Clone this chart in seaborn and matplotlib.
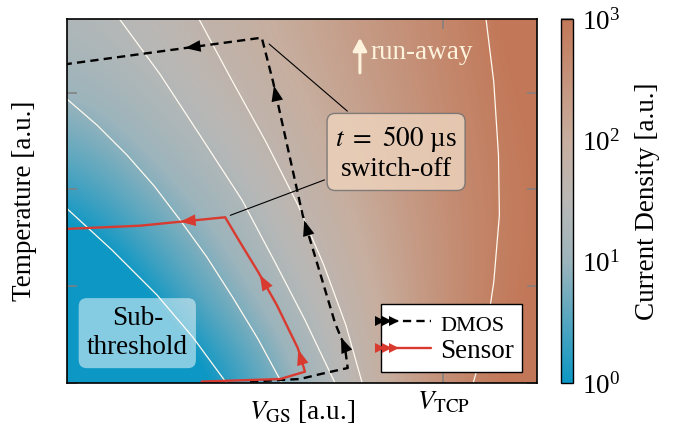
import numpy as np
import matplotlib
matplotlib.use('Agg')
import matplotlib.pyplot as plt
import seaborn as sns
from matplotlib.colors import LinearSegmentedColormap, LogNorm
from matplotlib.cm import ScalarMappable
from matplotlib.lines import Line2D
from matplotlib.legend_handler import HandlerLine2D
from matplotlib.ticker import NullLocator

# --- values (V_GS and temperature in a.u.) ---
v_grid = [0.0, 1/6, 2/6, 3/6, 4/6, 5/6, 1.0]
t_grid = [0.0, 0.752, 1.504, 2.256, 3.008, 3.76]
# log10 of the current density, one row per temperature (bottom -> top)
log_j = [
    [-1.5, -0.8, 0.05, 1.00, 1.90, 2.75, 3.2],
    [-1.2, -0.1, 0.69, 1.32, 2.03, 2.65, 3.1],
    [-0.2, 0.48, 1.04, 1.61, 2.13, 2.64, 3.05],
    [0.45, 0.95, 1.36, 1.83, 2.25, 2.68, 3.05],
    [1.00, 1.30, 1.66, 2.00, 2.37, 2.74, 3.1],
    [1.35, 1.55, 1.85, 2.13, 2.46, 2.78, 3.2],
]

# iso current density lines
iso_u = [
    [-0.005, 0.095, 0.191, 0.267, 0.342],
    [-0.005, 0.063, 0.127, 0.185, 0.240, 0.297, 0.353, 0.406, 0.459],
    [0.108, 0.197, 0.282, 0.372, 0.442, 0.506, 0.572],
    [0.278, 0.350, 0.423, 0.491, 0.546, 0.593, 0.629],
    [0.891, 0.908, 0.918, 0.920, 0.908, 0.889, 0.863],
]
iso_v = [
    [1.82, 1.374, 0.909, 0.475, -0.02],
    [2.95, 2.665, 2.355, 2.035, 1.684, 1.302, 0.878, 0.455, -0.02],
    [3.78, 3.192, 2.562, 1.890, 1.250, 0.651, -0.02],
    [3.78, 3.130, 2.490, 1.839, 1.219, 0.599, -0.02],
    [3.78, 3.110, 2.355, 1.736, 1.043, 0.424, -0.02],
]

# operating point trajectories
dmos_u = [0.389, 0.495, 0.544, 0.597, 0.591, 0.570, 0.501, 0.438, 0.414, -0.005]
dmos_v = [0.015, 0.041, 0.098, 0.155, 0.372, 0.620, 1.736, 3.113, 3.567, 3.292]
sensor_u = [0.286, 0.453, 0.506, 0.491, 0.446, 0.406, 0.367, 0.336, 0.155, -0.005]
sensor_v = [0.015, 0.041, 0.117, 0.358, 0.806, 1.150, 1.460, 1.712, 1.625, 1.591]

# where the direction arrows sit (segment index, fraction along it)
dmos_arrows = [(4, 0.4), (5, 0.95), (6, 0.97), (8, 0.39)]
sensor_arrows = [(2, 0.95), (4, 0.9), (7, 0.53)]
switch_off_idx = (8, 7)  # corner of each trajectory at t = 500 us

v_tcp = 0.8

# --- style ---
sns.set_style('ticks')
plt.rcParams['font.family'] = ['Liberation Serif', 'DejaVu Serif']
plt.rcParams['mathtext.fontset'] = 'stix'
plt.rcParams['font.size'] = 19.5
plt.rcParams['axes.edgecolor'] = 'black'
for k in ['text.color', 'axes.labelcolor', 'xtick.labelcolor', 'ytick.labelcolor']:
    plt.rcParams[k] = 'black'

red = '#d93a30'
iso_col = '#fffaf0'
dash = (0, (3.5, 2.2))

cmap = LinearSegmentedColormap.from_list(
    'cd', [(0, '#0c97c4'), (1/3, '#9cb4bc'), (0.5, '#b9b8b6'),
           (2/3, '#c7ae9f'), (1, '#c27858')])

fig = plt.figure(figsize=(6.74, 4.32), dpi=100)
ax = fig.add_axes([0.0999, 0.1134, 0.6968, 0.8426])
cax = fig.add_axes([0.832, 0.1134, 0.0178, 0.8426])

dv = v_grid[1] - v_grid[0]
dt = t_grid[1] - t_grid[0]
ax.imshow(np.array(log_j), origin='lower', aspect='auto', cmap=cmap, vmin=0, vmax=3,
          extent=(v_grid[0] - dv / 2, v_grid[-1] + dv / 2, t_grid[0] - dt / 2, t_grid[-1] + dt / 2),
          interpolation='bicubic', interpolation_stage='data', zorder=0)

for cu, cv in zip(iso_u, iso_v):
    sns.lineplot(x=cu, y=cv, ax=ax, sort=False, estimator=None, color=iso_col,
                 lw=0.9, legend=False, zorder=1)

sns.lineplot(x=dmos_u, y=dmos_v, ax=ax, sort=False, estimator=None, color='black',
             lw=1.7, linestyle=dash, legend=False, zorder=3)
sns.lineplot(x=sensor_u, y=sensor_v, ax=ax, sort=False, estimator=None, color=red,
             lw=1.7, legend=False, zorder=4)


def add_arrows(u, v, where, color, z):
    for s, f in where:
        du, dv_ = u[s + 1] - u[s], v[s + 1] - v[s]
        pu, pv = u[s] + f * du, v[s] + f * dv_
        L = np.hypot(du, dv_ / 3.76)
        ax.annotate('', xy=(pu, pv), xytext=(pu - 0.01 * du / L, pv - 0.01 * dv_ / L),
                    arrowprops=dict(arrowstyle='-|>,head_length=0.8,head_width=0.3',
                                    color=color, lw=0, mutation_scale=14,
                                    shrinkA=0, shrinkB=0), zorder=z)


add_arrows(dmos_u, dmos_v, dmos_arrows, 'black', 5)
add_arrows(sensor_u, sensor_v, sensor_arrows, red, 6)

ax.set_xlim(0, 1)
ax.set_ylim(0, 3.76)
ax.set_xticks([v_tcp])
ax.set_xticklabels([r'$V_{\mathrm{TCP}}$'])
ax.set_yticks([0, 1, 2, 3])
ax.set_yticklabels([])
ax.tick_params(direction='in', length=7, width=1.1, color='#808080',
               top=True, right=True, pad=5)
for sp in ax.spines.values():
    sp.set_linewidth(1.2)
    sp.set_zorder(10)

ax.set_xlabel(r'$V_{\mathrm{GS}}$ [a.u.]')
ax.xaxis.set_label_coords(0.5, -0.04)
ax.set_ylabel('Temperature [a.u.]')
ax.yaxis.set_label_coords(-0.065, 0.5)

# text boxes
box = '#ecd2bc'
txt = '$t\\ =\\ 500$ µs\nswitch-off'
ax.annotate(txt, xy=(sensor_u[switch_off_idx[1]], sensor_v[switch_off_idx[1]]),
            xytext=(0.70, 0.632), textcoords='axes fraction', ha='center', va='center',
            color='none', linespacing=1.2,
            bbox=dict(boxstyle='round,pad=0.3', fc='none', ec='none'),
            arrowprops=dict(arrowstyle='-', color='black', lw=0.8, shrinkB=4), zorder=7)
ax.annotate(txt, xy=(dmos_u[switch_off_idx[0]], dmos_v[switch_off_idx[0]]),
            xytext=(0.70, 0.632), textcoords='axes fraction', ha='center', va='center',
            linespacing=1.2,
            bbox=dict(boxstyle='round,pad=0.3', fc=box, ec='#707070', lw=1, alpha=0.85),
            arrowprops=dict(arrowstyle='-', color='black', lw=0.8, shrinkB=7), zorder=8)

ax.text(0.149, 0.137, 'Sub-\nthreshold', transform=ax.transAxes, ha='center', va='center',
        ma='center', linespacing=1.2, zorder=7,
        bbox=dict(boxstyle='round,pad=0.3', fc='white', ec='none', alpha=0.5))

ax.annotate('', xy=(0.623, 0.948), xytext=(0.623, 0.852), xycoords='axes fraction',
            arrowprops=dict(arrowstyle='-|>,head_length=0.55,head_width=0.3', color='#fdf3dc',
                            lw=2.2, mutation_scale=14, shrinkA=0, shrinkB=0), zorder=7)
ax.text(0.645, 0.909, 'run-away', transform=ax.transAxes, color='#fdf3dc',
        ha='left', va='center', zorder=7)


# legend: arrow heads bunched at the start of each sample line
class ArrowHeadHandler(HandlerLine2D):
    def create_artists(self, legend, orig_handle, xdescent, ydescent, width, height,
                       fontsize, trans):
        y = (height - ydescent) / 2
        x0 = -xdescent - 0.5 * fontsize
        line = Line2D([x0, -xdescent + width], [y, y])
        line.update_from(orig_handle)
        line.set_marker('')
        heads = Line2D(x0 + np.array([3.5, 8.5, 13.5]), [y] * 3, ls='none', marker='>',
                       ms=7.5, mew=0, color=orig_handle.get_color())
        line.set_transform(trans)
        heads.set_transform(trans)
        return [line, heads]


h_dmos = Line2D([], [], color='black', lw=1.7, linestyle=dash)
h_sens = Line2D([], [], color=red, lw=1.7)
leg = ax.legend([h_dmos, h_sens], ['DMOS', 'Sensor'], loc='lower right',
                bbox_to_anchor=(0.969, 0.031), borderaxespad=0, fancybox=False,
                framealpha=1, edgecolor='black', handlelength=1.55, handletextpad=0.35,
                borderpad=0.3, labelspacing=0.1,
                handler_map={Line2D: ArrowHeadHandler()})
leg.get_frame().set_linewidth(1.0)
leg.set_zorder(9)
leg.get_texts()[0].set_fontsize(16)

# colorbar
sm = ScalarMappable(norm=LogNorm(1, 1e3), cmap=cmap)
cb = fig.colorbar(sm, cax=cax)
cb.ax.yaxis.set_minor_locator(NullLocator())
cb.ax.tick_params(which='major', direction='in', length=8.6, width=1.1, color='#808080', pad=7)
cb.outline.set_linewidth(1.0)
cb.set_label('Current Density [a.u.]', labelpad=10)

fig.savefig('out.png', dpi=100)
